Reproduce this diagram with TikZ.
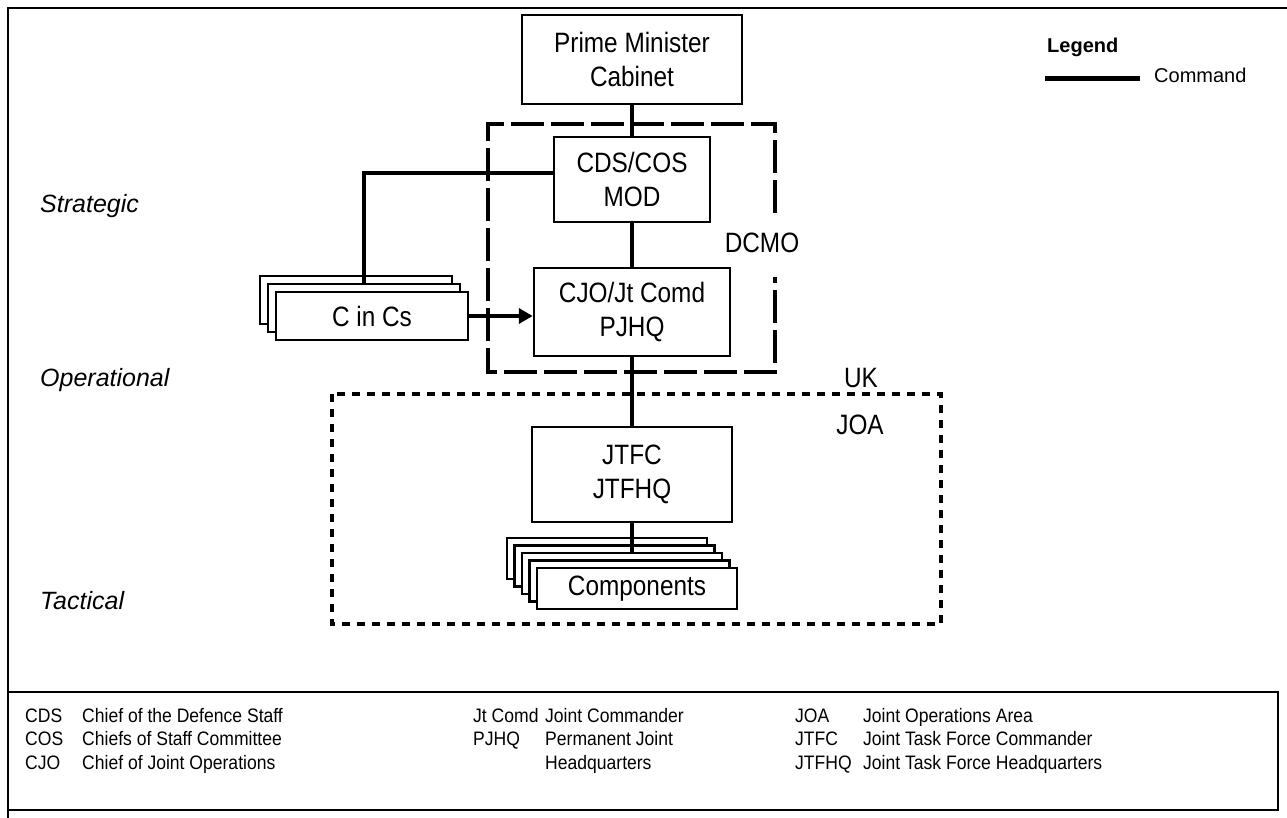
\documentclass[tikz,border=0pt]{standalone}
\usepackage{fontspec}
\setmainfont{Liberation Sans}
\newfontfamily\nar[FakeStretch=0.87]{Liberation Sans}
\newfontfamily\narkey[FakeStretch=0.9]{Liberation Sans}
\usetikzlibrary{arrows.meta}
\begin{document}
\begin{tikzpicture}[x=1pt,y=-1pt,
  box/.style={draw, line width=2.5pt, fill=white, inner sep=0pt, align=center,
    font=\nar\fontsize{28}{34}\selectfont},
  cmd/.style={line width=3.5pt},
  dcmo/.style={line width=4pt, dash pattern=on 33pt off 7pt},
  joa/.style={line width=3.5pt, dash pattern=on 8pt off 7pt},
  lvl/.style={anchor=base west, inner sep=0pt, font=\itshape\fontsize{25}{30}\selectfont},
  area/.style={inner sep=0pt, font=\nar\fontsize{28}{34}\selectfont},
  key/.style={anchor=base west, inner sep=0pt, font=\narkey\fontsize{19.5}{23}\selectfont},
  frame/.style={line width=2.5pt}]
\useasboundingbox (0,0) rectangle (1287,818);
% frame
\draw[frame] (8,818) -- (8,8) -- (1287,8);
% nodes
\node[box, minimum width=220pt, minimum height=89pt] (pm) at (632,59.5) {Prime Minister\\Cabinet};
\node[box, minimum width=156pt, minimum height=85pt] (cds) at (632,179.5) {CDS/COS\\MOD};
\node[box, minimum width=196pt, minimum height=88pt] (cjo) at (632,312) {CJO/Jt Comd\\PJHQ};
\node[box, minimum width=200pt, minimum height=95pt] (jtfc) at (632,474.5) {JTFC\\JTFHQ};
% C in Cs stack
\node[box, minimum width=192pt, minimum height=48pt] (cc3) at (356,300) {};
\node[box, minimum width=192pt, minimum height=48pt] (cc2) at (364,308) {};
\node[box, minimum width=192pt, minimum height=48pt] (cc1) at (372,316) {C in Cs};
% Components stack
\node[box, minimum width=200pt, minimum height=41pt] (co5) at (607,558.5) {};
\node[box, minimum width=200pt, minimum height=41pt] (co4) at (614.5,566) {};
\node[box, minimum width=200pt, minimum height=41pt] (co3) at (622,573.5) {};
\node[box, minimum width=200pt, minimum height=41pt] (co2) at (629.5,581) {};
\node[box, minimum width=200pt, minimum height=41pt] (co1) at (637,588.5) {Components};
% areas
\draw[dcmo] (775,213) -- (775,124) -- (488,124) -- (488,372) -- (775,372) -- (775,277);
\draw[joa] (332,394) rectangle (941,624);
\node[area] (dcmol) at (762,243) {DCMO};
\node[area] (ukl) at (861,378) {UK};
\node[area] (joal) at (860,425) {JOA};
% connectors
\draw[cmd] (pm.south) -- (cds.north);
\draw[cmd] (cds.south) -- (cjo.north);
\draw[cmd] (cjo.south) -- (jtfc.north);
\draw[cmd] ([yshift=6.5pt]cds.west) -| (cc2.north);
\draw[cmd, -{Triangle[length=14pt,width=15pt]}] (cc1.east) -- (cc1.east -| cjo.west);
\draw[cmd] (jtfc.south) -- (jtfc.south |- co3.north);
% level labels
\node[lvl] (strat) at (40,213) {Strategic};
\node[lvl] (oper) at (40,386) {Operational};
\node[lvl] (tact) at (40,609) {Tactical};
% legend
\node[anchor=base west, inner sep=0pt, font=\bfseries\fontsize{20}{24}\selectfont] (leg) at (1047,53) {Legend};
\coordinate (l1) at (1045,79);
\coordinate (l2) at (1140,79);
\draw[line width=5pt] (l1) -- (l2);
\node[anchor=base west, inner sep=0pt, font=\fontsize{20}{24}\selectfont] (cmdl) at (1154,83) {Command};
% abbreviations box
\draw[line width=1.5pt] (8,692) rectangle (1278,810);
\node[key] (a1) at (25,722) {CDS};
\node[key] (a2) at (25,745.5) {COS};
\node[key] (a3) at (25,769) {CJO};
\node[key] (b1) at (82,722) {Chief of the Defence Staff};
\node[key] (b2) at (82,745.5) {Chiefs of Staff Committee};
\node[key] (b3) at (82,769) {Chief of Joint Operations};
\node[key] (c1) at (473,722) {Jt Comd};
\node[key] (c2) at (473,745.5) {PJHQ};
\node[key] (d1) at (545,722) {Joint Commander};
\node[key] (d2) at (545,745.5) {Permanent Joint};
\node[key] (d3) at (545,769) {Headquarters};
\node[key] (e1) at (795,722) {JOA};
\node[key] (e2) at (795,745.5) {JTFC};
\node[key] (e3) at (795,769) {JTFHQ};
\node[key] (f1) at (863,722) {Joint Operations Area};
\node[key] (f2) at (863,745.5) {Joint Task Force Commander};
\node[key] (f3) at (863,769) {Joint Task Force Headquarters};
\end{tikzpicture}
\end{document}
